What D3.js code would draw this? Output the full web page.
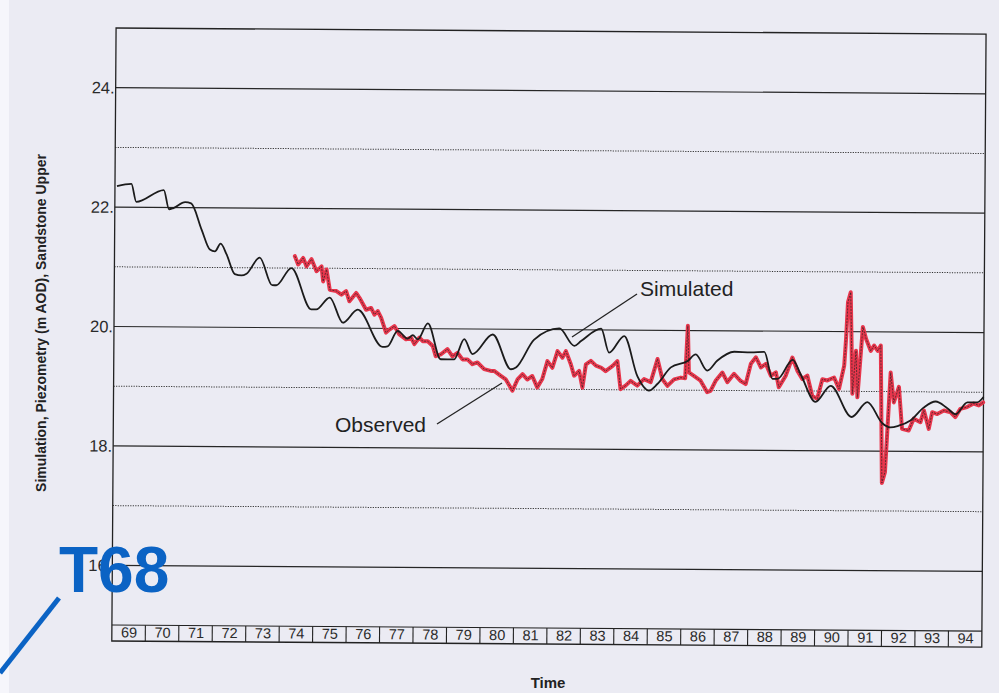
<!DOCTYPE html>
<html><head><meta charset="utf-8">
<script src="https://cdn.jsdelivr.net/npm/d3@7/dist/d3.min.js"></script>
<style>
body{margin:0;background:#ebebf3;}
svg{display:block;}
text{font-family:"Liberation Sans",Arial,Helvetica,sans-serif;}
</style>
</head><body>
<svg id="chart" width="999" height="693"></svg>
<script>
// ---- data ----
const yearLabels = ["69","70","71","72","73","74","75","76","77","78","79","80","81","82","83","84","85","86","87","88","89","90","91","92","93","94"];
const yMajorTicks = [16,18,20,22,24];
const yMinorTicks = [17,19,21,23];
const seriesNames = ["Simulated","Observed"];
const yTitle = "Simulation, Piezometry (m AOD), Sandstone Upper";
const xTitle = "Time";
const tag = "T68";

const simulatedYears = [1969.06,1969.49,1969.64,1970.46,1970.62,1970.75,1971.10,1971.28,1971.60,1971.85,1972.00,1972.17,1972.35,1972.60,1972.80,1972.95,1973.34,1973.72,1973.84,1974.29,1974.89,1975.04,1975.44,1975.84,1976.28,1977.03,1977.18,1977.48,1977.78,1977.93,1978.08,1978.38,1978.77,1979.17,1979.47,1979.72,1980.32,1980.87,1981.02,1981.56,1982.31,1982.76,1982.96,1983.56,1983.80,1984.25,1984.65,1985.00,1985.25,1985.65,1986.15,1986.39,1986.74,1987.04,1987.54,1988.04,1988.44,1988.69,1988.84,1989.29,1989.53,1989.98,1990.43,1991.06,1991.53,1991.98,1992.22,1992.47,1992.82,1993.22,1993.57,1993.92,1994.17,1994.52,1994.81,1995.00];
const simulatedValues = [22.35,22.39,22.09,22.29,21.97,21.99,22.09,22.07,21.63,21.30,21.27,21.40,21.22,20.89,20.87,20.90,21.17,20.71,20.71,21.00,20.31,20.31,20.51,20.09,20.31,19.69,19.70,19.96,19.83,19.89,19.82,20.09,19.49,19.49,19.83,19.58,19.91,19.33,19.36,19.83,20.02,19.73,19.81,20.02,19.62,19.90,19.23,18.99,19.10,19.38,19.49,19.60,19.33,19.50,19.65,19.64,19.65,19.20,19.20,19.52,19.28,18.82,19.09,18.57,18.82,18.47,18.40,18.43,18.52,18.74,18.84,18.73,18.63,18.83,18.83,18.92];

const observedYears = [1974.39,1974.49,1974.64,1974.74,1974.89,1975.04,1975.19,1975.24,1975.34,1975.44,1975.64,1975.79,1975.93,1976.03,1976.23,1976.33,1976.53,1976.68,1976.78,1976.88,1976.98,1977.13,1977.23,1977.38,1977.53,1977.73,1977.88,1977.98,1978.13,1978.23,1978.38,1978.53,1978.62,1978.77,1978.97,1979.12,1979.27,1979.42,1979.57,1979.72,1979.87,1980.07,1980.27,1980.37,1980.57,1980.72,1980.92,1981.07,1981.22,1981.36,1981.51,1981.66,1981.81,1981.96,1982.11,1982.26,1982.41,1982.51,1982.66,1982.76,1982.91,1983.01,1983.11,1983.26,1983.41,1983.56,1983.70,1983.91,1984.05,1984.15,1984.30,1984.45,1984.65,1984.85,1985.05,1985.25,1985.40,1985.55,1985.75,1985.95,1986.08,1986.15,1986.19,1986.34,1986.54,1986.74,1986.84,1986.99,1987.19,1987.34,1987.54,1987.74,1987.89,1988.04,1988.19,1988.34,1988.49,1988.64,1988.79,1988.88,1989.08,1989.28,1989.43,1989.58,1989.73,1989.88,1990.03,1990.18,1990.33,1990.53,1990.68,1990.83,1990.88,1990.93,1991.01,1991.08,1991.18,1991.23,1991.38,1991.48,1991.62,1991.72,1991.83,1991.92,1991.98,1992.07,1992.22,1992.32,1992.47,1992.57,1992.77,1992.92,1993.12,1993.22,1993.37,1993.47,1993.62,1993.82,1994.02,1994.16,1994.31,1994.51,1994.71,1994.86,1994.99];
const observedValues = [21.20,21.06,21.17,21.03,21.15,20.95,21.03,20.78,20.98,20.64,20.62,20.56,20.62,20.45,20.59,20.51,20.31,20.34,20.23,20.29,20.18,19.93,19.98,20.04,19.90,19.82,19.85,19.74,19.85,19.79,19.79,19.71,19.54,19.57,19.66,19.54,19.60,19.49,19.49,19.41,19.44,19.33,19.30,19.30,19.22,19.16,18.97,19.16,19.25,19.16,19.22,19.03,19.17,19.47,19.36,19.64,19.53,19.64,19.42,19.23,19.31,19.03,19.42,19.48,19.40,19.37,19.31,19.40,19.48,19.01,19.07,19.15,19.07,19.18,19.13,19.52,19.18,19.07,19.18,19.21,19.20,20.08,19.30,19.24,19.16,18.97,18.99,19.16,19.30,19.14,19.28,19.16,19.11,19.45,19.56,19.39,19.45,19.25,19.31,19.06,19.25,19.56,19.34,19.20,19.26,18.92,18.87,19.20,19.18,19.23,19.04,19.43,19.88,20.49,20.66,18.96,19.68,18.90,20.08,19.88,19.68,19.77,19.68,19.77,17.47,17.65,19.32,18.82,19.08,18.38,18.35,18.55,18.49,18.69,18.38,18.66,18.63,18.69,18.66,18.58,18.72,18.75,18.81,18.78,18.83];

// ---- drawing ----
const svg = d3.select("#chart");
svg.append("rect").attr("width",999).attr("height",693).attr("fill","#ebebf3");
svg.append("rect").attr("width",9).attr("height",693).attr("fill","#f6f6fb");

const L = 114, R = 984, T = 28, B = 625, BOX = 16;
const x = d3.scaleLinear().domain([1969,1995]).range([L,R]);
const y = d3.scaleLinear().domain([15,25]).range([B,T]);

const g = svg.append("g").attr("transform","rotate(0.4,114,326)");

// gridlines
g.selectAll(".maj").data(yMajorTicks).join("line")
  .attr("x1",L).attr("x2",R).attr("y1",d=>y(d)).attr("y2",d=>y(d))
  .attr("stroke","#262626").attr("stroke-width",1.2);
g.selectAll(".min").data(yMinorTicks).join("line")
  .attr("x1",L).attr("x2",R).attr("y1",d=>y(d)).attr("y2",d=>y(d))
  .attr("stroke","#333").attr("stroke-width",1).attr("stroke-dasharray","1.2,1.3");

// frame
g.append("rect").attr("x",L).attr("y",T).attr("width",R-L).attr("height",B+BOX-T)
  .attr("fill","none").attr("stroke","#222").attr("stroke-width",1.3);
g.append("line").attr("x1",L).attr("x2",R).attr("y1",B).attr("y2",B)
  .attr("stroke","#222").attr("stroke-width",1.2);

// year boxes
const yearStarts = yearLabels.map((s,i)=>1969+i);
g.selectAll(".div").data(yearStarts.slice(1)).join("line")
  .attr("x1",d=>x(d)).attr("x2",d=>x(d)).attr("y1",B).attr("y2",B+BOX)
  .attr("stroke","#222").attr("stroke-width",1.1);
const xAxis = d3.axisBottom(x).tickValues(yearStarts.map(d=>d+0.5)).tickSize(0).tickPadding(2)
  .tickFormat((d,i)=>yearLabels[i]);
const xa = g.append("g").attr("transform",`translate(0,${B})`).call(xAxis);
xa.select(".domain").remove();
xa.selectAll("text").style("font-size","14.5px").attr("fill","#2a2a2a")
  .style("font-family","'Liberation Sans',Arial,sans-serif");

// y axis labels
const yAxis = d3.axisLeft(y).tickValues(yMajorTicks).tickSize(0).tickPadding(1).tickFormat(d=>d+".");
const ya = g.append("g").attr("transform",`translate(${L},0)`).call(yAxis);
ya.select(".domain").remove();
ya.selectAll("text").style("font-size","16.5px").attr("fill","#2a2a2a")
  .style("font-family","'Liberation Sans',Arial,sans-serif");

// series
const sim = simulatedYears.map((t,i)=>[t,simulatedValues[i]]);
const obs = observedYears.map((t,i)=>[t,observedValues[i]]);
const line = d3.line().x(d=>x(d[0])).y(d=>y(d[1]));
const smooth = d3.line().x(d=>x(d[0])).y(d=>y(d[1])).curve(d3.curveMonotoneX);

g.append("path").datum(obs).attr("d",line).attr("fill","none")
  .attr("stroke","#e8364c").attr("stroke-width",4).attr("stroke-linejoin","round").attr("stroke-linecap","round");
g.append("path").datum(sim).attr("d",smooth).attr("fill","none")
  .attr("stroke","#1b1b1b").attr("stroke-width",1.8).attr("stroke-linejoin","round");
g.append("path").datum(obs).attr("d",line).attr("fill","none")
  .attr("stroke","#222").attr("stroke-width",0.9).attr("stroke-dasharray","2,1.2").attr("opacity",0.75);

// annotations
svg.append("text").attr("x",640).attr("y",296).attr("font-size",21).attr("fill","#222").text(seriesNames[0]);
svg.append("line").attr("x1",637).attr("y1",294).attr("x2",572).attr("y2",337).attr("stroke","#222").attr("stroke-width",1.3);
svg.append("text").attr("x",335).attr("y",432).attr("font-size",21).attr("fill","#222").text(seriesNames[1]);
svg.append("line").attr("x1",437).attr("y1",424).attr("x2",502).attr("y2",383).attr("stroke","#222").attr("stroke-width",1.3);

// axis titles
svg.append("text").attr("transform","translate(46,323) rotate(-90)").attr("text-anchor","middle")
  .attr("font-size",14).attr("font-weight","bold").attr("fill","#222").text(yTitle);
svg.append("text").attr("x",548).attr("y",688).attr("text-anchor","middle")
  .attr("font-size",15).attr("font-weight","bold").attr("fill","#222").text(xTitle);

// tag
svg.append("line").attr("x1",0).attr("y1",673).attr("x2",59).attr("y2",598)
  .attr("stroke","#0b63c4").attr("stroke-width",5);
svg.append("text").attr("x",59).attr("y",592).attr("font-size",64).attr("font-weight","bold")
  .attr("fill","#0b63c4").text(tag);
</script>
</body></html>
